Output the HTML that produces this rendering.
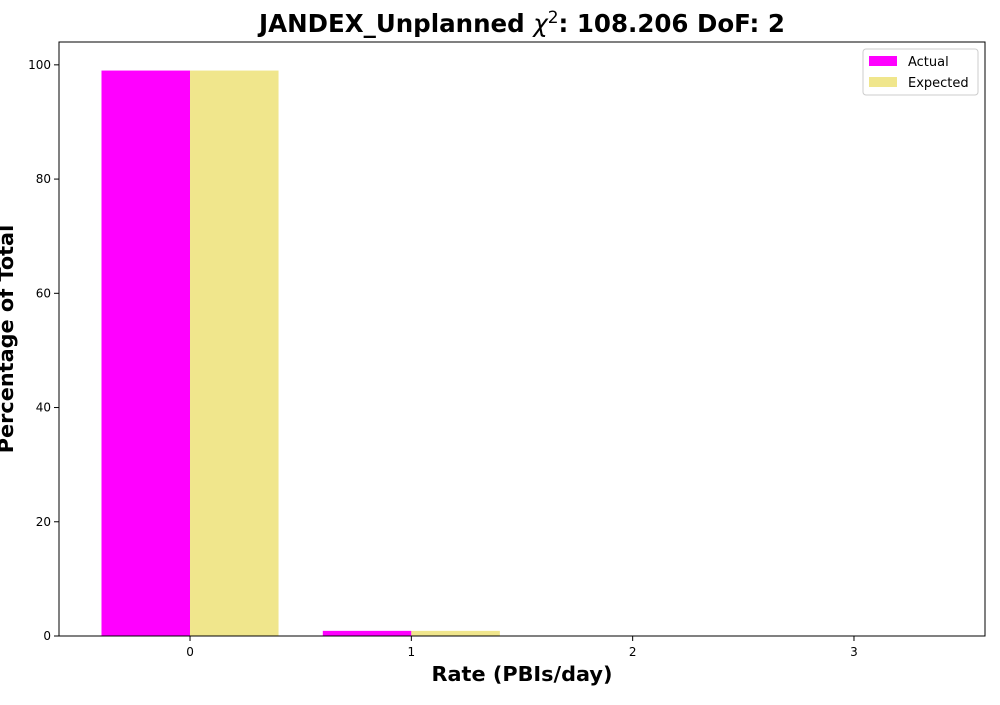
<!DOCTYPE html>
<html><head><meta charset="utf-8"><style>
body{margin:0;background:#fff;font-family:"Liberation Sans","DejaVu Sans",sans-serif}
svg text{font-family:"DejaVu Sans","Liberation Sans",sans-serif}
</style></head><body>
<svg id="chart" width="1000" height="700" xmlns="http://www.w3.org/2000/svg">
<rect width="1000" height="700" fill="#fff"/>
<text x="522" y="32" text-anchor="middle" font-size="24.5" font-weight="bold">JANDEX_Unplanned <tspan font-style="italic" font-weight="normal">χ</tspan><tspan dy="-9" font-size="17" font-weight="normal">2</tspan><tspan dy="9">: 108.206 DoF: 2</tspan></text>
<g id="bars"></g>
<g id="axes"></g>
<text x="522" y="681" text-anchor="middle" font-size="20.8" font-weight="bold">Rate (PBIs/day)</text>
<text transform="translate(13,339) rotate(-90)" text-anchor="middle" font-size="20.8" font-weight="bold">Percentage of Total</text>
<g>
<rect x="863" y="49" width="115" height="46" fill="#fff" stroke="#ccc" rx="3"/>
<rect x="869" y="56" width="28" height="10" fill="#ff00ff"/>
<text x="908" y="66" font-size="13">Actual</text>
<rect x="869" y="77" width="28" height="10" fill="#f0e68c"/>
<text x="908" y="87" font-size="13">Expected</text>
</g>
</svg>
<script>
const categories=[0,1,2,3];
const actualValues=[99.0,0.9,0,0];
const expectedValues=[99.0,0.9,0,0];
const yTicks=[0,20,40,60,80,100];
const L=59,R=985,T=42,B=636;
const xMin=-0.592,xMax=3.592,yMin=0,yMax=104;
const xs=v=>L+(v-xMin)/(xMax-xMin)*(R-L);
const ys=v=>B-(v-yMin)/(yMax-yMin)*(B-T);
const NS="http://www.w3.org/2000/svg";
const bars=document.getElementById('bars'),axes=document.getElementById('axes');
function mk(tag,attrs,parent){const e=document.createElementNS(NS,tag);for(const k in attrs)e.setAttribute(k,attrs[k]);parent.appendChild(e);return e;}
const w=0.4;
categories.forEach((c,i)=>{
  let r=mk('rect',{x:xs(c-w),y:ys(actualValues[i]),width:xs(c)-xs(c-w),height:ys(0)-ys(actualValues[i]),fill:'#ff00ff'},bars);
  
  
  let r2=mk('rect',{x:xs(c),y:ys(expectedValues[i]),width:xs(c+w)-xs(c),height:ys(0)-ys(expectedValues[i]),fill:'#f0e68c'},bars);
  
  
  mk('line',{x1:xs(c),x2:xs(c),y1:B,y2:B+5,stroke:'#000'},axes);
  let tl=mk('text',{x:xs(c),y:B+20,'text-anchor':'middle','font-size':'12'},axes);
  tl.textContent=c;
  
  
});
yTicks.forEach(v=>{
  mk('line',{x1:L-5,x2:L,y1:ys(v),y2:ys(v),stroke:'#000'},axes);
  let tl=mk('text',{x:L-8,y:ys(v)+4,'text-anchor':'end','font-size':'12'},axes);
  tl.textContent=v;
  
  
});
let f=mk('rect',{x:L,y:T,width:R-L,height:B-T,fill:'none',stroke:'#000','stroke-width':1},axes);


</script>
</body></html>
